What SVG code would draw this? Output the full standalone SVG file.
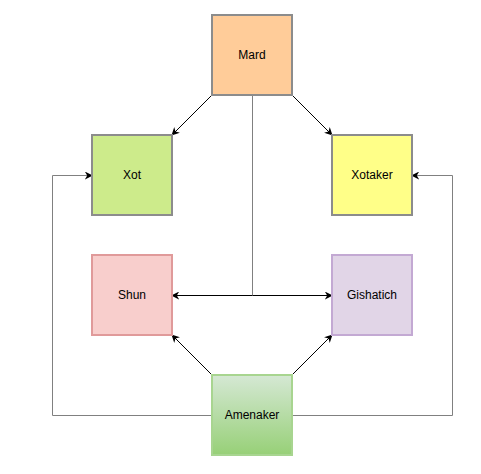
<svg xmlns="http://www.w3.org/2000/svg" width="481" height="474" viewBox="0 0 481 474">
<style>
.box{stroke-width:2}
.lbl{font-family:"Liberation Sans",Arial,sans-serif;font-size:12px;fill:#000;text-anchor:middle;dominant-baseline:central}
.ln{fill:none;stroke:#000;stroke-width:1}
.lg{fill:none;stroke:#808080;stroke-width:1}
</style>
<defs>
<marker id="arr" viewBox="0 0 10 10" refX="9" refY="5" markerWidth="8" markerHeight="8" markerUnits="userSpaceOnUse" orient="auto">
<path d="M0,0 L10,5 L0,10 L3,5 Z" fill="#000"/>
</marker>
<linearGradient id="gA" x1="0" y1="0" x2="0" y2="1">
<stop offset="0" stop-color="#d5e8d4"/>
<stop offset="1" stop-color="#97d077"/>
</linearGradient>
</defs>
<rect width="481" height="474" fill="#fff"/>
<g id="connectors">
<line class="ln" x1="212" y1="95" x2="172" y2="135" marker-end="url(#arr)"/>
<line class="ln" x1="292" y1="95" x2="332" y2="135" marker-end="url(#arr)"/>
<line class="lg" x1="252.5" y1="95" x2="252.5" y2="295"/>
<line class="ln" x1="252.5" y1="295.5" x2="172" y2="295.5" marker-end="url(#arr)"/>
<line class="ln" x1="252.5" y1="295.5" x2="332" y2="295.5" marker-end="url(#arr)"/>
<line class="ln" x1="212" y1="375" x2="172" y2="335" marker-end="url(#arr)"/>
<line class="ln" x1="292" y1="375" x2="332" y2="335" marker-end="url(#arr)"/>
<polyline class="lg" points="212,415.5 52.5,415.5 52.5,175.5 92,175.5" marker-end="url(#arr)"/>
<polyline class="lg" points="292,415.5 452.5,415.5 452.5,175.5 412,175.5" marker-end="url(#arr)"/>
</g>
<g id="mard"><rect class="box" x="212" y="15" width="80" height="80" fill="#ffcc99" stroke="#8c8c8c"/><text class="lbl" x="252" y="55">Mard</text></g>
<g id="xot"><rect class="box" x="92" y="135" width="80" height="80" fill="#cdeb8b" stroke="#8c8c8c"/><text class="lbl" x="132" y="175">Xot</text></g>
<g id="xotaker"><rect class="box" x="332" y="135" width="80" height="80" fill="#ffff88" stroke="#8c8c8c"/><text class="lbl" x="372" y="175">Xotaker</text></g>
<g id="shun"><rect class="box" x="92" y="255" width="80" height="80" fill="#f8cecc" stroke="#e09a9a"/><text class="lbl" x="132" y="295">Shun</text></g>
<g id="gishatich"><rect class="box" x="332" y="255" width="80" height="80" fill="#e1d5e7" stroke="#c3a9d3"/><text class="lbl" x="372" y="295">Gishatich</text></g>
<g id="amenaker"><rect class="box" x="212" y="375" width="80" height="80" fill="url(#gA)" stroke="#a8d590"/><text class="lbl" x="252" y="415">Amenaker</text></g>
</svg>
